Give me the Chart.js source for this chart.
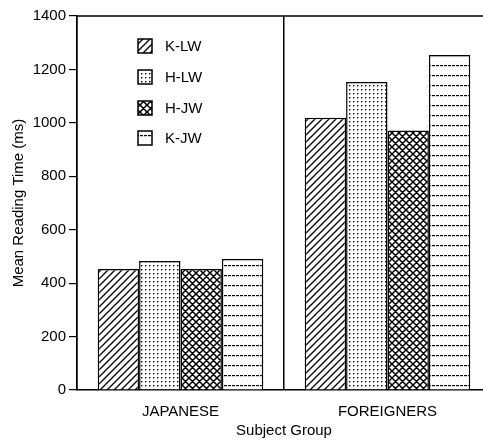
<!DOCTYPE html>
<html>
<head>
<meta charset="utf-8">
<script src="https://cdn.jsdelivr.net/npm/chart.js@4"></script>
<style>
  html, body { margin: 0; padding: 0; background: #fff; overflow: hidden; }
  /* plot runs a little past the right window edge, as in the scan */
  #wrap { width: 491px; height: 440px; }
</style>
</head>
<body>
<div id="wrap"><canvas id="chart"></canvas></div>
<script>
// data
const groups = ['JAPANESE', 'FOREIGNERS'];
const kLW = [453, 1019];
const hLW = [483, 1153];
const hJW = [453, 971];
const kJW = [490, 1254];
const yTicks = [0, 200, 400, 600, 800, 1000, 1200, 1400];

const FONT = '"Liberation Sans", Arial, sans-serif';

// small canvas tiles used as fill patterns
const makeTile = (w, h, draw) => {
  const c = document.createElement('canvas');
  c.width = w;
  c.height = h;
  const g = c.getContext('2d');
  g.fillStyle = '#fff';
  g.fillRect(0, 0, w, h);
  g.strokeStyle = '#000';
  g.fillStyle = '#000';
  draw(g, w, h);
  return g.createPattern(c, 'repeat');
};

const diag = makeTile(7, 7, (g, s) => {
  g.lineWidth = 1.3;
  g.beginPath();
  g.moveTo(-1, s + 1); g.lineTo(s + 1, -1);
  g.moveTo(-1, 1); g.lineTo(1, -1);
  g.moveTo(s - 1, s + 1); g.lineTo(s + 1, s - 1);
  g.stroke();
});

const dots = makeTile(4, 4, (g) => {
  g.fillRect(1, 1, 1.4, 1.4);
});

const cross = makeTile(7, 7, (g, s) => {
  g.lineWidth = 1.5;
  g.beginPath();
  g.moveTo(-1, s + 1); g.lineTo(s + 1, -1);
  g.moveTo(-1, 1); g.lineTo(1, -1);
  g.moveTo(s - 1, s + 1); g.lineTo(s + 1, s - 1);
  g.moveTo(-1, -1); g.lineTo(s + 1, s + 1);
  g.moveTo(s - 1, -1); g.lineTo(s + 1, 1);
  g.moveTo(-1, s - 1); g.lineTo(1, s + 1);
  g.stroke();
});

const hdash = makeTile(4, 10, (g) => {
  g.fillRect(0, 5, 3, 1.2);
});

// legend inside the plot + top border
const extras = {
  id: 'extras',
  afterDraw(chart) {
    const { ctx, chartArea } = chart;
    ctx.save();
    ctx.strokeStyle = '#000';
    ctx.lineWidth = 1.5;
    ctx.beginPath();
    ctx.moveTo(chartArea.left, chartArea.top);
    ctx.lineTo(chart.width, chartArea.top);
    ctx.stroke();

    const rows = [46, 77, 108, 138];
    ctx.font = '15px ' + FONT;
    ctx.textBaseline = 'middle';
    chart.data.datasets.forEach((ds, i) => {
      const y = rows[i];
      ctx.fillStyle = ds.backgroundColor;
      ctx.fillRect(138, y - 7, 14, 14);
      ctx.strokeRect(138, y - 7, 14, 14);
      ctx.fillStyle = '#000';
      ctx.fillText(ds.label, 165, y + 1);
    });
    ctx.restore();
  },
};

const bar = (label, data, fill) => ({
  label,
  data,
  backgroundColor: fill,
  borderColor: '#000',
  borderWidth: 1.5,
  borderSkipped: 'bottom',
  barPercentage: 1,
  categoryPercentage: 0.8,
});

new Chart(document.getElementById('chart'), {
  type: 'bar',
  data: {
    labels: groups,
    datasets: [
      bar('K-LW', kLW, diag),
      bar('H-LW', hLW, dots),
      bar('H-JW', hJW, cross),
      bar('K-JW', kJW, hdash),
    ],
  },
  options: {
    responsive: true,
    maintainAspectRatio: false,
    animation: false,
    layout: { padding: { top: 16, right: 0, bottom: 0, left: 0 } },
    plugins: {
      legend: { display: false },
      tooltip: { enabled: false },
    },
    scales: {
      x: {
        afterFit: (s) => { s.height = 50; },
        grid: {
          offset: true,
          color: '#000',
          lineWidth: 1.5,
          drawTicks: false,
        },
        border: { display: true, color: '#000', width: 1.5 },
        ticks: {
          color: '#000',
          padding: 13,
          font: { family: FONT, size: 15 },
        },
        title: {
          display: true,
          text: 'Subject Group',
          color: '#000',
          padding: { top: 4, bottom: 0 },
          font: { family: FONT, size: 15 },
        },
      },
      y: {
        min: 0,
        max: 1400,
        afterFit: (s) => { s.width = 77; },
        afterBuildTicks: (s) => { s.ticks = yTicks.map((v) => ({ value: v })); },
        grid: {
          drawOnChartArea: false,
          color: '#000',
          lineWidth: 1.2,
          tickLength: 8,
        },
        border: { display: true, color: '#000', width: 1.5 },
        ticks: {
          color: '#000',
          padding: 3,
          callback: (v) => String(v),
          font: { family: FONT, size: 15 },
        },
        title: {
          display: true,
          text: 'Mean Reading Time (ms)',
          color: '#000',
          padding: { top: 10, bottom: 0 },
          font: { family: FONT, size: 15 },
        },
      },
    },
  },
  plugins: [extras],
});
</script>
</body>
</html>
